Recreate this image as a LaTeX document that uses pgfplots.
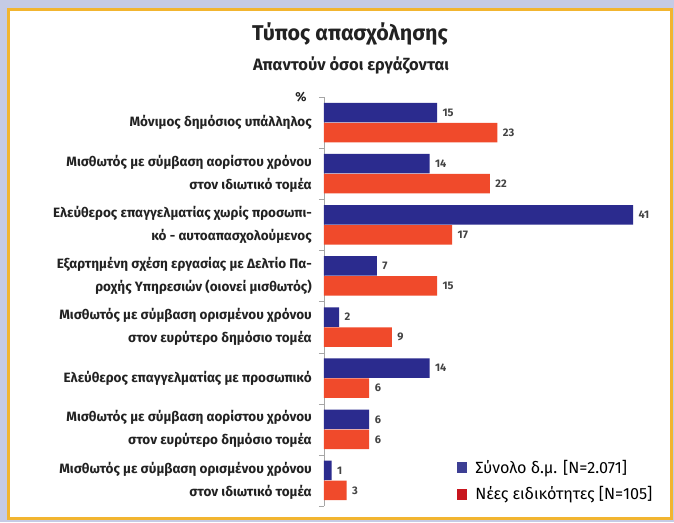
\documentclass[border=0pt]{standalone}
\usepackage{fontspec}
\setmainfont{Fira Sans}
\usepackage{pgfplots}
\pgfplotsset{compat=1.18}
\definecolor{barblue}{HTML}{2B2B8E}
\definecolor{barred}{HTML}{F04A2B}
\definecolor{legblue}{HTML}{3D3F94}
\definecolor{legred}{HTML}{C8161E}
\definecolor{framecol}{HTML}{F2B530}
\definecolor{outercol}{HTML}{C5CBE5}
\definecolor{txt}{HTML}{222222}
\begin{document}
\begin{tikzpicture}[x=1pt,y=1pt]
\fill[outercol] (-324,-16) rectangle (350,506);
\filldraw[fill=white, draw=framecol, line width=3pt] (-315.5,-12) rectangle (347.5,496.5);
\begin{axis}[
  scale only axis, width=336pt, height=409pt,
  xbar, xmin=0, xmax=44.56, ymin=-0.5, ymax=7.5,
  hide x axis, axis y line*=left,
  y axis line style={draw=black!35},
  ytick={0,...,7},
  major tick length=0pt,
  minor ytick={-0.5,0.5,...,7.5},
  minor tick length=5pt, tick align=outside,
  minor tick style={draw=black!35},
  /pgf/number format/assume math mode=true,
  yticklabels={
    {Μισθωτός με σύμβαση ορισμένου χρόνου\\στον ιδιωτικό τομέα},
    {Μισθωτός με σύμβαση αορίστου χρόνου\\στον ευρύτερο δημόσιο τομέα},
    {Ελεύθερος επαγγελματίας με προσωπικό},
    {Μισθωτός με σύμβαση ορισμένου χρόνου\\στον ευρύτερο δημόσιο τομέα},
    {Εξαρτημένη σχέση εργασίας με Δελτίο Πα-\\ροχής Υπηρεσιών (οιονεί μισθωτός)},
    {Ελεύθερος επαγγελματίας χωρίς προσωπι-\\κό - αυτοαπασχολούμενος},
    {Μισθωτός με σύμβαση αορίστου χρόνου\\στον ιδιωτικό τομέα},
    {Μόνιμος δημόσιος υπάλληλος}},
  yticklabel style={font=\bfseries\fontsize{13.5}{23}\selectfont, align=right, inner sep=0pt, xshift=-12pt, text=txt},
  bar width=19.5pt,
  nodes near coords,
  every node near coord/.append style={font=\bfseries\fontsize{11}{11}\selectfont, text=txt!85, anchor=west, xshift=2pt},
  legend image code/.code={\fill[#1, draw=none] (0pt,-5.5pt) rectangle (10pt,5.5pt); \path[draw=none, fill=none] (16pt,0pt);},
  legend style={at={(0.396,0.118)}, anchor=north west, draw=none, fill=none,
    font=\fontsize{16.2}{18}\selectfont, row sep=8pt, inner sep=0pt,
    nodes={inner sep=2pt}},
  legend cell align=left,
]
\addplot[fill=barblue, draw=none, bar shift=10pt, forget plot] coordinates {
  (1,0) (6,1) (14,2) (2,3) (7,4) (41,5) (14,6) (15,7)};
\addplot[fill=barred, draw=none, bar shift=-10pt, forget plot] coordinates {
  (3,0) (6,1) (6,2) (9,3) (15,4) (17,5) (22,6) (23,7)};
\addlegendimage{fill=legblue}
\addlegendentry{Σύνολο δ.μ. [N=2.071]}
\addlegendimage{fill=legred}
\addlegendentry{Νέες ειδικότητες [N=105]}
\end{axis}
\node[font=\bfseries\fontsize{21.4}{24}\selectfont, text=txt] at (26,472) {Τύπος απασχόλησης};
\node[font=\bfseries\fontsize{16.5}{18}\selectfont, text=txt] at (27,441) {Απαντούν όσοι εργάζονται};
\node[font=\bfseries\fontsize{13}{14}\selectfont, text=txt] at (-23,409) {\%};
\end{tikzpicture}
\end{document}
